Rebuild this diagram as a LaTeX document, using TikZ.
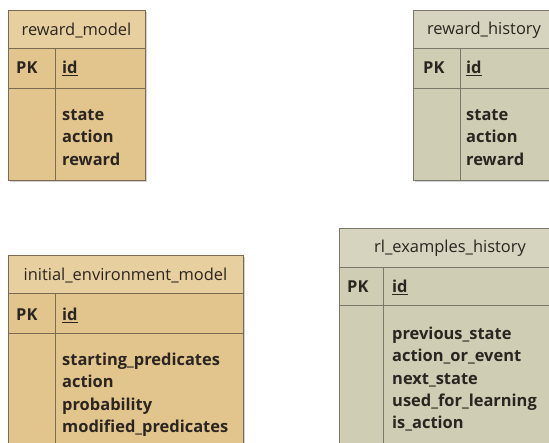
\documentclass[tikz,border=0pt]{standalone}
\usepackage{fontspec}
\setmainfont{Open Sans}
\definecolor{tanbody}{HTML}{E2C48D}
\definecolor{tantitle}{HTML}{E8CF9F}
\definecolor{tanline}{HTML}{7D6A52}
\definecolor{graybody}{HTML}{CFCDB3}
\definecolor{graytitle}{HTML}{D6D4BE}
\definecolor{grayline}{HTML}{7A786A}
\definecolor{txt}{HTML}{2A2520}
\tikzset{
  tshadow/.style={fill=black!18},
  ttitle/.style={anchor=center,inner sep=0pt,font=\fontsize{16.5}{20}\selectfont,text=txt},
  tpk/.style={anchor=west,inner sep=0pt,font=\fontsize{16.5}{20}\selectfont\bfseries,text=txt},
  tfields/.style={anchor=north west,inner sep=0pt,align=left,font=\fontsize{16.5}{22.5}\selectfont\bfseries,text=txt},
  divline/.style={line width=0.9pt},
}
\begin{document}
\begin{tikzpicture}[x=1bp,y=-1bp]
\useasboundingbox (0,0) rectangle (549,443);
\clip (0,0) rectangle (549,443);
\def\tab#1#2#3#4#5#6#7#8#9{%
  \fill[tshadow] (#2+2,#4+2) rectangle (#3+2,#7+2);
  \fill[#8body] (#2,#4) rectangle (#3,#7);
  \fill[#8title] (#2,#4) rectangle (#3,#5);
  \draw[#8line,divline] (#2,#5) -- (#3,#5);
  \draw[#8line,divline] (#2,#6) -- (#3,#6);
  \draw[#8line,divline] (#9,#5) -- (#9,#7);
  \draw[#8line,line width=0.8pt] (#2,#4) rectangle (#3,#7);
}
% reward_model
\tab{rm}{8}{145}{10}{48}{88}{180}{tan}{55}
\node[ttitle] (rmtitle) at (76.5,30.5) {reward\_model};
\node[tpk] (rmpk) at (16,68) {PK};
\node[tpk] (rmid) at (62,68) {\underline{id}};
\node[tfields] (rmf) at (62,109.5) {state\\action\\reward};

% reward_history
\tab{rh}{413}{556}{10}{48}{88}{180}{gray}{460}
\node[ttitle] (rhtitle) at (484,30.5) {reward\_history};
\node[tpk] (rhpk) at (423,68) {PK};
\node[tpk] (rhid) at (466,68) {\underline{id}};
\node[tfields] (rhf) at (466,109.5) {state\\action\\reward};

% initial_environment_model
\tab{ie}{8}{243}{255}{293}{333}{450}{tan}{55}
\node[ttitle] (ietitle) at (125.5,275.5) {initial\_environment\_model};
\node[tpk] (iepk) at (16,315) {PK};
\node[tpk] (ieid) at (62,315) {\underline{id}};
\node[tfields] (ief) at (62,352.5) {starting\_predicates\\action\\probability\\modified\_predicates};

% rl_examples_history
\tab{rl}{339}{562}{228}{267}{305}{450}{gray}{383}
\node[ttitle] (rltitle) at (450,248.5) {rl\_examples\_history};
\node[tpk] (rlpk) at (347,287) {PK};
\node[tpk] (rlid) at (392,287) {\underline{id}};
\node[tfields] (rlf) at (392,326.5) {previous\_state\\action\_or\_event\\next\_state\\used\_for\_learning\\is\_action};
\end{tikzpicture}
\end{document}
